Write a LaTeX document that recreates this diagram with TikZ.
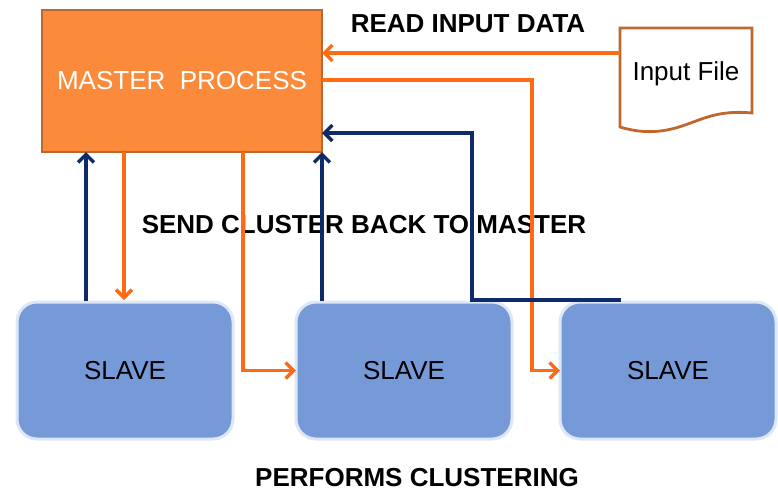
\documentclass[tikz,border=0pt]{standalone}
\usepackage{fontspec}
\setmainfont{Liberation Sans}
\usetikzlibrary{arrows.meta,calc}
\definecolor{mfill}{HTML}{FB8A3A}
\definecolor{mborder}{HTML}{BC6630}
\definecolor{oline}{HTML}{FF6A14}
\definecolor{bline}{HTML}{0F2A6A}
\definecolor{sfill}{HTML}{7699D7}
\definecolor{sborder}{HTML}{DEE7F5}
\definecolor{fborder}{HTML}{C0672E}
\tikzset{
  masterbox/.style={draw=mborder,line width=2.8pt,outer sep=0pt,fill=mfill,minimum width=280pt,minimum height=142pt,inner sep=0pt,text=white,font=\fontsize{26}{30}\selectfont},
  slavebox/.style={draw=sborder,line width=3pt,outer sep=0pt,fill=sfill,rounded corners=20pt,minimum width=216pt,minimum height=137pt,inner sep=0pt,font=\fontsize{26}{30}\selectfont},
  lbl/.style={font=\bfseries\fontsize{26}{30}\selectfont,inner sep=0pt},
  oarr/.style={draw=oline,line width=3.4pt,-{Straight Barb[length=8pt,width=16pt]}},
  barr/.style={draw=bline,line width=3.4pt,-{Straight Barb[length=8pt,width=16pt]}},
}
\begin{document}
\begin{tikzpicture}[x=1pt,y=-1pt]
\useasboundingbox (0,0) rectangle (778,491);
\node[masterbox] (master) at (182,81) {MASTER\ \ PROCESS};
\node[slavebox] (s1) at (125,370.5) {SLAVE};
\node[slavebox] (s2) at (404,370.5) {SLAVE};
\node[slavebox] (s3) at (668,370.5) {SLAVE};
% input file document shape
\draw[draw=fborder,line width=2.8pt,fill=white] (620,28) -- (752,28) -- (752,113)
  .. controls (720,110) and (705,118) .. (685,125)
  .. controls (660,134) and (640,133) .. (620,127) -- cycle;
\node[inner sep=0pt,anchor=base,font=\fontsize{26}{30}\selectfont] (file) at (686,80) {Input File};
\coordinate (fileW) at (620,53);
% labels
\node[lbl] (lread) at (468,24) {READ INPUT DATA};
\node[lbl] (lsend) at (364,225) {SEND CLUSTER BACK TO MASTER};
\node[lbl] (lperf) at (417,478) {PERFORMS CLUSTERING};
% connectors
\draw[oarr] (fileW) -- (fileW -| master.east);
\draw[oarr] ($(master.east)+(0,-1)$) -- ++(210,0) |- (s3.west);
\draw[barr] ($(s3.north west)+(61,-2)$) -- ++(-149,0) |- ($(master.east)+(0,52)$);
\draw[barr] ($(s1.north west)+(69,-1)$) -- ($(master.south west)+(44,0)$);
\draw[oarr] ($(master.south west)+(82,0)$) -- ($(s1.north west)+(107,-2)$);
\draw[oarr] ($(master.south west)+(201,0)$) |- (s2.west);
\draw[barr] ($(s2.north west)+(26,-1)$) -- (master.south east);
\end{tikzpicture}
\end{document}
